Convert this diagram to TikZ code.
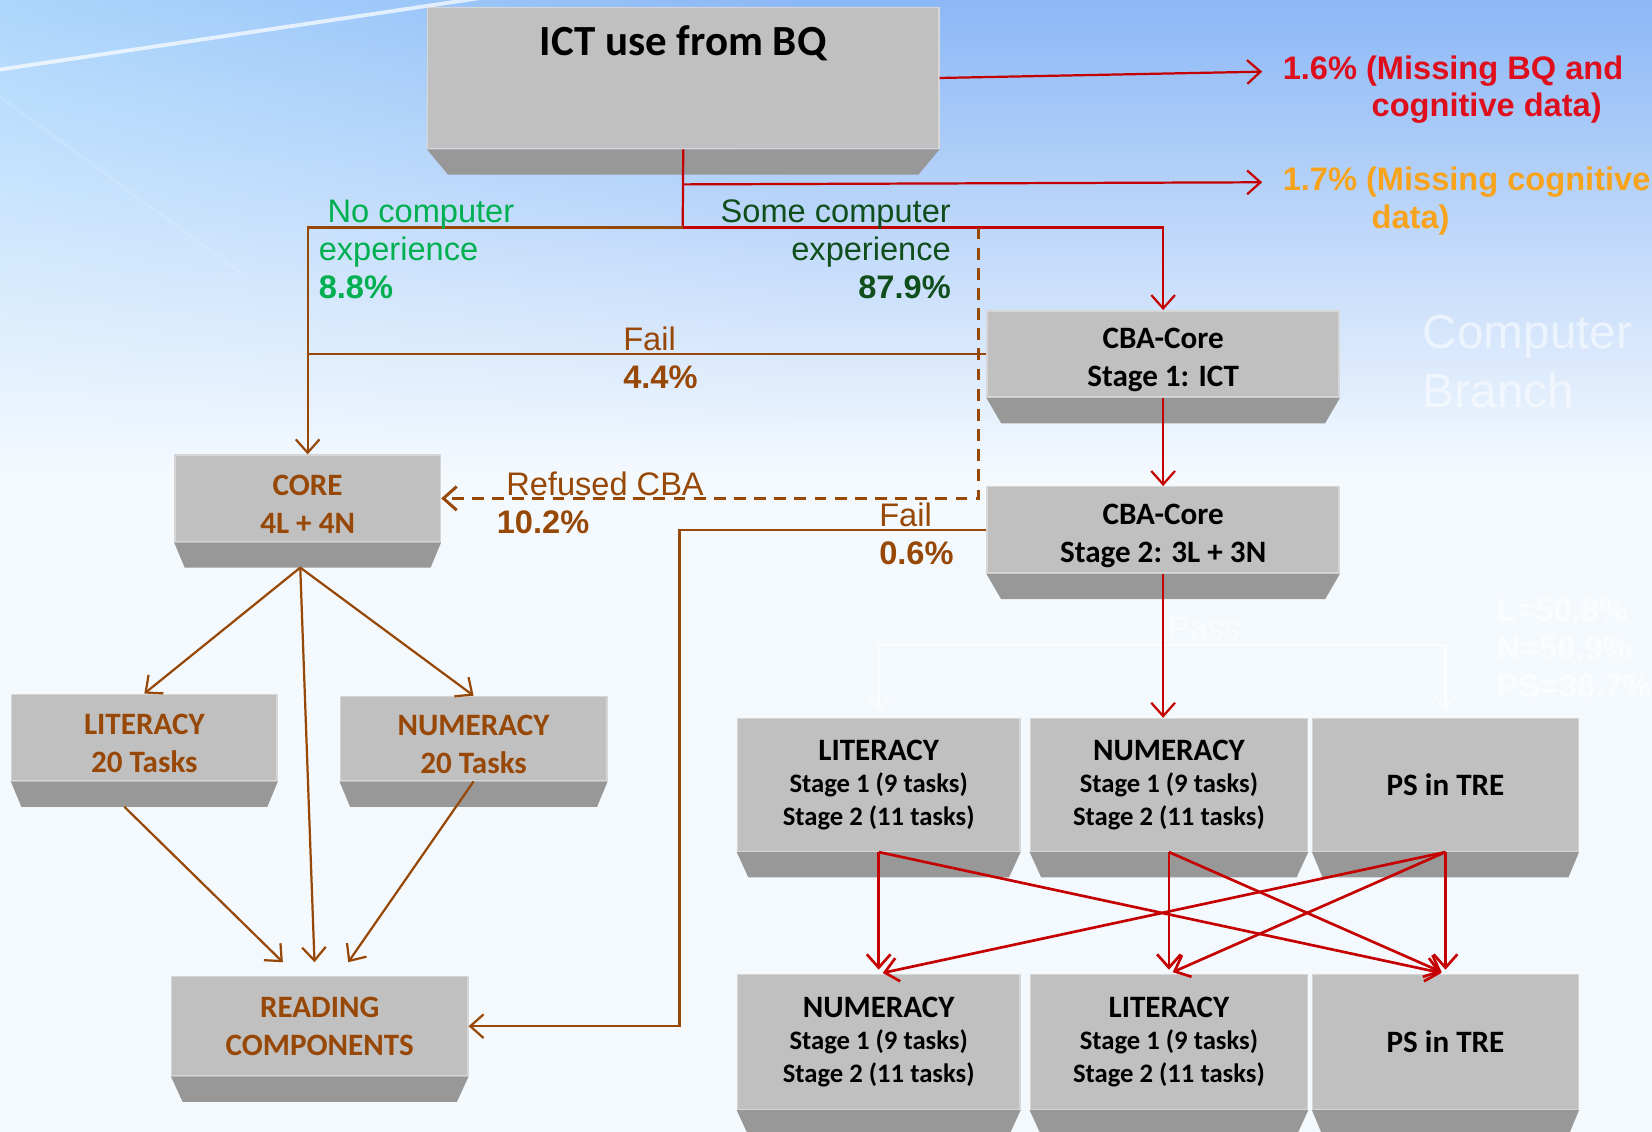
\documentclass[tikz,border=0pt]{standalone}
\usepackage{fontspec}
\setmainfont{Carlito}
\newfontfamily\arialfont{Liberation Sans}
\usetikzlibrary{arrows.meta,shadings}

\definecolor{bgtop}{RGB}{140,184,246}
\definecolor{bgbot}{RGB}{244,249,254}
\definecolor{bgcyan}{RGB}{172,214,252}
\definecolor{slabfront}{RGB}{192,192,192}
\definecolor{slabside}{RGB}{152,152,152}
\definecolor{slabedge}{RGB}{214,214,214}
\definecolor{flowred}{RGB}{196,0,0}
\definecolor{textred}{RGB}{222,14,28}
\definecolor{textorange}{RGB}{247,163,28}
\definecolor{flowbrown}{RGB}{151,71,6}
\definecolor{nogreen}{RGB}{0,176,80}
\definecolor{somegreen}{RGB}{16,78,28}

\newcommand\stagefont{\fontsize{9}{11.2}\selectfont}
\newcommand\slabstrut{\rule{0pt}{10.8pt}}

\tikzset{
  slab/.style={fill=slabfront, draw=slabedge, line width=0.5pt, inner sep=0pt,
    align=center, font=\bfseries\fontsize{10.5}{12.8}\selectfont},
  brownslab/.style={slab, text=flowbrown},
  taskslab/.style={slab, font=\bfseries\fontsize{10.5}{10.9}\selectfont},
  tip/.style={-{Straight Barb[length=4.5pt,width=8pt]}},
  redflow/.style={flowred, line width=0.75pt},
  brownflow/.style={flowbrown, line width=0.75pt},
  crossflow/.style={flowred, line width=0.9pt, tip, shorten >=1.4pt},
  note/.style={inner sep=0pt, font=\arialfont\fontsize{11}{12.8}\selectfont},
  boldnote/.style={note, font=\arialfont\bfseries\fontsize{11}{12.8}\selectfont},
  ghost/.style={white, opacity=0.55},
}

\begin{document}
\begin{tikzpicture}[x=0.0125cm, y=-0.0125cm]
\useasboundingbox (0,0) rectangle (1568,1074);
\clip (0,0) rectangle (1568,1074);
% background
\shade[upper left=bgcyan, upper right=bgtop, lower left=bgbot, lower right=bgbot] (0,0) rectangle (760,450);
\shade[top color=bgtop, bottom color=bgbot] (759,0) rectangle (1568,450);
\fill[bgbot] (0,449) rectangle (1568,1074);
\draw[white, opacity=0.7, line width=1.3pt] (0,66) -- (470,-4);
\draw[white, opacity=0.12, line width=1pt] (0,92) -- (230,260);

% boxes
\node[slab, minimum width=6.0625cm, text height=0.575cm, text depth=1.1cm,
  font=\bfseries\fontsize{14.5}{16}\selectfont] (ict) at (648.5,74) {ICT use from BQ};
\node[slab, minimum width=4.175cm, minimum height=1.025cm] (cbaone) at (1104,336) {\slabstrut CBA-Core\\Stage 1: ICT};
\node[slab, minimum width=4.175cm, minimum height=1.025cm] (cbatwo) at (1104,503) {\slabstrut CBA-Core\\Stage 2: 3L + 3N};
\node[brownslab, minimum width=3.15cm, minimum height=1.025cm] (core) at (292,473) {\slabstrut CORE\\4L + 4N};
\node[brownslab, minimum width=3.15cm, minimum height=1.025cm] (litleft) at (137,700) {\slabstrut LITERACY\\20 Tasks};
\node[brownslab, minimum width=3.1625cm, minimum height=1.0cm] (numleft) at (449.5,701) {\slabstrut NUMERACY\\20 Tasks};
\node[brownslab, minimum width=3.5125cm, minimum height=1.175cm] (reading) at (303.5,974) {READING\\COMPONENTS};

\node[taskslab, minimum width=3.35cm, minimum height=1.575cm] (litup) at (834,745)
  {LITERACY\\\stagefont Stage 1 (9 tasks)\\\stagefont Stage 2 (11 tasks)};
\node[taskslab, minimum width=3.2875cm, minimum height=1.575cm] (numup) at (1109.5,745)
  {NUMERACY\\\stagefont Stage 1 (9 tasks)\\\stagefont Stage 2 (11 tasks)};
\node[taskslab, minimum width=3.15cm, minimum height=1.575cm] (psup) at (1372,745) {PS in TRE};
\node[taskslab, minimum width=3.35cm, minimum height=1.6cm] (numlow) at (834,989)
  {NUMERACY\\\stagefont Stage 1 (9 tasks)\\\stagefont Stage 2 (11 tasks)};
\node[taskslab, minimum width=3.2875cm, minimum height=1.6cm] (litlow) at (1109.5,989)
  {LITERACY\\\stagefont Stage 1 (9 tasks)\\\stagefont Stage 2 (11 tasks)};
\node[taskslab, minimum width=3.15cm, minimum height=1.6cm] (pslow) at (1372,989) {PS in TRE};

% bevels under the boxes
\foreach \n/\d in {ict/20, cbaone/14, cbatwo/14, core/10, litleft/10, numleft/10, reading/11,
    litup/11, numup/11, psup/10, numlow/11, litlow/11, pslow/10}
  \fill[slabside] (\n.south west) -- (\n.south east) -- ([shift={(-\d,24)}]\n.south east)
    -- ([shift={(\d,24)}]\n.south west) -- cycle;

% faint pass branch
\coordinate (passbar) at (1103,612);
\draw[ghost, line width=0.75pt, tip, shorten >=2.5pt] (passbar) -| (litup.north);
\draw[ghost, line width=0.75pt, tip, shorten >=2.5pt] (passbar) -| (psup.north);

% top split
\coordinate (split) at (648,216);
\coordinate (jmiss) at (648,175);
\coordinate (tipone) at (1198,68);
\coordinate (tiptwo) at (1198,173);
\coordinate (refuse) at (929,216);
\coordinate (bend) at (645,0);
\coordinate (corefoot) at ([shift={(-7,24)}]core.south);
\draw[redflow, tip] (ict.east) -- (tipone);
\draw[redflow] (ict.south) -- (split);
\draw[redflow, tip] (jmiss) -- (tiptwo);
\draw[redflow, tip] (split) -| (cbaone.north);
\draw[brownflow, tip] (split) -| (core.north);
\draw[brownflow] (cbaone.west) -- (cbaone.west -| core.north);
\draw[brownflow, line width=1pt, tip, dash pattern=on 4pt off 2.8pt] (refuse) |- (core.east);
\draw[brownflow, tip] (cbatwo.west) -- (cbatwo.west -| bend) |- (reading.east);
\draw[redflow, tip] (cbaone.south) -- (cbatwo.north);
\draw[redflow, tip] (cbatwo.south) -- (cbatwo.south |- numup.north);

% paper branch
\draw[brownflow, tip] (corefoot) -- (litleft.north);
\draw[brownflow, tip] (corefoot) -- ([shift={(-5,-13)}]reading.north);
\draw[brownflow, tip] (corefoot) -- (numleft.north);
\draw[brownflow, tip] ([shift={(-19,24)}]litleft.south) -- ([shift={(-35,-13)}]reading.north);
\draw[brownflow, tip] (numleft.south) -- ([shift={(27,-13)}]reading.north);

% computer branch, second module
\foreach \s/\t in {litup/numlow, litup/pslow, numup/litlow, numup/pslow, psup/numlow, psup/litlow, psup/pslow}
  \draw[crossflow] (\s.south) -- (\t.north);

% labels
\node[boldnote, text=textred, anchor=north west, align=left] (missone) at (1217,52)
  {1.6\% (Missing BQ and\\\hspace*{30pt}cognitive data)};
\node[boldnote, text=textorange, anchor=north west, align=left] (misstwo) at (1217,158)
  {1.7\% (Missing cognitive\\\hspace*{30pt}data)};
\node[note, text=nogreen, anchor=north west, align=left] (nocomp) at (302,189)
  {\hspace*{3pt}No computer\\experience\\\textbf{8.8\%}};
\node[note, text=somegreen, anchor=north east, align=right] (somecomp) at (903,189)
  {Some computer\\experience\\\textbf{87.9\%}};
\node[note, text=flowbrown, anchor=north west, align=left] (failone) at (591,310) {Fail\\\textbf{4.4\%}};
\node[note, text=flowbrown, anchor=north west, align=left] (refused) at (471,447)
  {\hspace*{3.2pt}Refused CBA\\\textbf{10.2\%}};
\node[note, text=flowbrown, anchor=north west, align=left] (failtwo) at (834,477) {Fail\\\textbf{0.6\%}};

% faint notes
\node[note, ghost, font=\arialfont\fontsize{16.1}{19.6}\selectfont, anchor=north west, align=left]
  (branch) at (1350,299) {Computer\\Branch};
\node[note, ghost, anchor=north west] (passnote) at (1108,585) {Pass};
\node[boldnote, ghost, anchor=north west, align=left] (rates) at (1420,568)
  {L=50.8\%\\N=50.9\%\\PS=38.7\%};
\end{tikzpicture}
\end{document}
